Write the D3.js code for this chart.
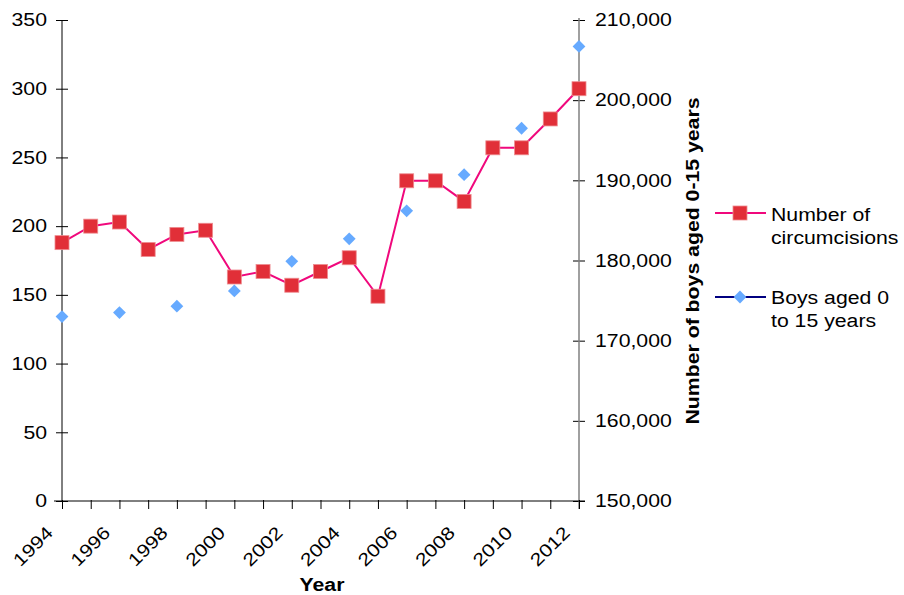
<!DOCTYPE html>
<html lang="en">
<head>
<meta charset="utf-8" />
<title>Circumcisions and boys aged 0-15</title>
<script src="https://d3js.org/d3.v7.min.js"></script>
<style>
  body { margin: 0; background: #fff; }
  text { font-family: "Liberation Sans", Arial, sans-serif; }
  .axis path { display: none; }
</style>
</head>
<body>
<div id="chart"></div>
<script>
// values
var years = [1994, 1995, 1996, 1997, 1998, 1999, 2000, 2001, 2002, 2003, 2004, 2005, 2006, 2007, 2008, 2009, 2010, 2011, 2012];
var circumcisions = [188, 200, 203, 183, 194, 197, 163, 167, 157, 167, 177, 149, 233, 233, 218, 257, 257, 278, 300];
var boyYears = [1994, 1996, 1998, 2000, 2002, 2004, 2006, 2008, 2010, 2012];
var boys = [173000, 173500, 174300, 176200, 179900, 182700, 186200, 190700, 196500, 206700];
var yearLabels = [1994, 1996, 1998, 2000, 2002, 2004, 2006, 2008, 2010, 2012];
var leftTicks = [0, 50, 100, 150, 200, 250, 300, 350];
var rightTicks = [150000, 160000, 170000, 180000, 190000, 200000, 210000];

var width = 904, height = 595;
var plotLeft = 62, plotRight = 579, plotTop = 20, plotBottom = 501;
var stretch = 1.18;

var svg = d3.select("#chart").append("svg")
  .attr("width", width)
  .attr("height", height);

var xScale = d3.scaleLinear().domain([1994, 2012]).range([plotLeft, plotRight]);
var yLeft = d3.scaleLinear().domain([0, 350]).range([plotBottom, plotTop]);
var yRight = d3.scaleLinear().domain([150000, 210000]).range([plotBottom, plotTop]);

// widen text a little like the original
function widen(sel) {
  sel.each(function() {
    var w = this.getComputedTextLength();
    d3.select(this).attr("textLength", w * stretch).attr("lengthAdjust", "spacingAndGlyphs");
  });
}

// left axis
var gl = svg.append("g")
  .attr("class", "axis")
  .attr("transform", "translate(" + plotLeft + ",0)")
  .call(d3.axisLeft(yLeft).tickValues(leftTicks).tickSize(6).tickPadding(9));
gl.selectAll(".tick line").attr("x2", 6).attr("x1", -6).attr("stroke", "#000");
gl.selectAll(".tick text").attr("font-size", 18).attr("fill", "#000").call(widen);
svg.append("line").attr("x1", plotLeft).attr("x2", plotLeft).attr("y1", plotTop).attr("y2", plotBottom).attr("stroke", "#000");

// right axis
var gr = svg.append("g")
  .attr("class", "axis")
  .attr("transform", "translate(" + plotRight + ",0)")
  .call(d3.axisRight(yRight).tickValues(rightTicks).tickFormat(d3.format(",")).tickSize(6).tickPadding(10));
gr.selectAll(".tick line").attr("x1", -6).attr("x2", 6).attr("stroke", "#000");
gr.selectAll(".tick text").attr("font-size", 18).attr("fill", "#000").call(widen);
svg.append("line").attr("x1", plotRight).attr("x2", plotRight).attr("y1", plotTop - 2).attr("y2", plotBottom + 8).attr("stroke", "#808080").attr("stroke-width", 1.5);

// x axis
var gx = svg.append("g")
  .attr("class", "axis")
  .attr("transform", "translate(0," + plotBottom + ")")
  .call(d3.axisBottom(xScale).tickValues(years).tickFormat(""));
gx.selectAll(".tick line").attr("y1", -1).attr("y2", 8).attr("stroke", "#000");
svg.append("line").attr("x1", plotLeft - 8).attr("x2", plotRight + 6).attr("y1", plotBottom).attr("y2", plotBottom).attr("stroke", "#000");

svg.append("g").selectAll("text")
  .data(yearLabels)
  .join("text")
  .attr("transform", function(d) { return "translate(" + (xScale(d) - 8) + "," + (plotBottom + 33) + ") rotate(-45)"; })
  .attr("text-anchor", "end")
  .attr("font-size", 18)
  .text(function(d) { return d; })
  .call(widen);

// axis titles
svg.append("text")
  .attr("x", 322).attr("y", 591)
  .attr("text-anchor", "middle")
  .attr("font-size", 18).attr("font-weight", "bold")
  .text("Year").call(widen);

svg.append("text")
  .attr("transform", "translate(699,261) rotate(-90)")
  .attr("text-anchor", "middle")
  .attr("font-size", 18).attr("font-weight", "bold")
  .text("Number of boys aged 0-15 years").call(widen);

// circumcision line
var line = d3.line()
  .x(function(d, i) { return xScale(years[i]); })
  .y(function(d) { return yLeft(d); });

svg.append("path")
  .datum(circumcisions)
  .attr("d", line)
  .attr("fill", "none")
  .attr("stroke", "#F0087C")
  .attr("stroke-width", 2);

svg.append("g").selectAll("rect")
  .data(circumcisions)
  .join("rect")
  .attr("x", function(d, i) { return xScale(years[i]) - 7; })
  .attr("y", function(d) { return yLeft(d) - 7; })
  .attr("width", 14).attr("height", 14)
  .attr("fill", "#E12F38")
  .attr("stroke", "#EE8C90").attr("stroke-width", 0.8);

// boys diamonds
var diamond = d3.symbol().type(d3.symbolSquare).size(82);
svg.append("g").selectAll("path")
  .data(boys)
  .join("path")
  .attr("d", diamond)
  .attr("transform", function(d, i) { return "translate(" + xScale(boyYears[i]) + "," + yRight(d) + ") rotate(45)"; })
  .attr("fill", "#66AAFF");

// legend
var lg = svg.append("g");
lg.append("line").attr("x1", 715).attr("x2", 766).attr("y1", 213).attr("y2", 213)
  .attr("stroke", "#F0087C").attr("stroke-width", 2);
lg.append("rect").attr("x", 733).attr("y", 206).attr("width", 14).attr("height", 14)
  .attr("fill", "#E12F38").attr("stroke", "#EE8C90").attr("stroke-width", 0.8);
lg.append("line").attr("x1", 715).attr("x2", 766).attr("y1", 297).attr("y2", 297)
  .attr("stroke", "#000080").attr("stroke-width", 2);
lg.append("path").attr("d", diamond).attr("transform", "translate(740,297) rotate(45)").attr("fill", "#66AAFF");

var legendText = [["Number of", 771, 221], ["circumcisions", 771, 244], ["Boys aged 0", 771, 304], ["to 15 years", 771, 327]];
lg.selectAll("text.leg")
  .data(legendText)
  .join("text")
  .attr("class", "leg")
  .attr("x", function(d) { return d[1]; })
  .attr("y", function(d) { return d[2]; })
  .attr("font-size", 18)
  .text(function(d) { return d[0]; })
  .call(widen);
</script>
</body>
</html>
